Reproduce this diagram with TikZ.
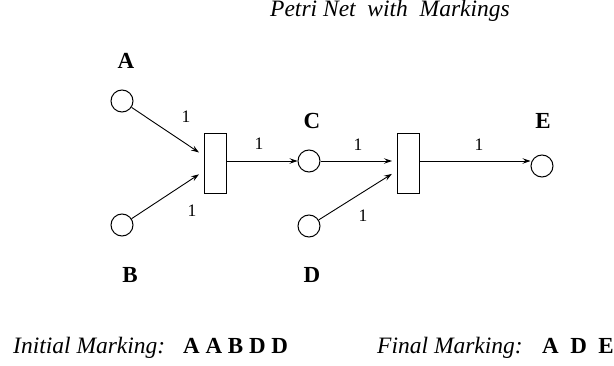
\documentclass[tikz,border=0pt]{standalone}
\usepackage{fontspec}
\setmainfont{Liberation Serif}
\usetikzlibrary{arrows.meta}
\begin{document}
\begin{tikzpicture}[x=1pt,y=-1pt,
  place/.style={circle,draw,line width=1pt,minimum size=22pt,inner sep=0pt},
  trans/.style={rectangle,draw,line width=1pt,minimum width=22pt,minimum height=60pt,inner sep=0pt},
  arc/.style={line width=0.9pt,-{Stealth[length=8pt,width=5.5pt,inset=3pt]}},
  lbl/.style={font=\fontsize{23}{26}\selectfont\bfseries,inner sep=0pt},
  wt/.style={font=\fontsize{17.5}{20}\selectfont,inner sep=0pt},
  txt/.style={font=\fontsize{23.5}{27}\selectfont\itshape,inner sep=0pt,anchor=base west}]
\useasboundingbox (0,0) rectangle (614,366);
% places and transitions
\node[place] (A) at (122,101) {};
\node[place] (B) at (122,225) {};
\node[trans] (T1) at (215.5,163.5) {};
\node[place] (C) at (309,161) {};
\node[place] (D) at (309,226) {};
\node[trans] (T2) at (408.5,163.5) {};
\node[place] (E) at (542,166) {};
% arcs
\draw[arc,shorten >=6pt] (A) -- (T1);
\draw[arc,shorten >=6pt] (B) -- (T1);
\draw[arc] (T1.east |- C) -- (C);
\draw[arc,shorten >=5pt] (C) -- (T2.west |- C);
\draw[arc,shorten >=6pt] (D) -- (T2);
\draw[arc] (T2.east |- C) -- (E.west |- C);
% weights
\node[wt] (w1) at (186,117) {1};
\node[wt] (w2) at (192,211) {1};
\node[wt] (w3) at (259,144) {1};
\node[wt] (w4) at (358,145) {1};
\node[wt] (w5) at (363,216) {1};
\node[wt] (w6) at (479,145) {1};
% place labels
\node[lbl] (la) at (126,61) {A};
\node[lbl] (lb) at (130,275) {B};
\node[lbl] (lc) at (312,121) {C};
\node[lbl] (ld) at (312,275) {D};
\node[lbl] (le) at (543,121) {E};
% texts
\node[txt] (title) at (270,17) {Petri Net\hspace{0.5em}with\hspace{0.5em}Markings};
\node[txt] (im) at (13,354) {Initial Marking:};
\node[lbl,anchor=base west] (imv) at (183,354) {A A B D D};
\node[txt] (fm) at (377,354) {Final Marking:};
\node[lbl,anchor=base west] (fmv) at (542,354) {A\ \ D\ \ E};
\end{tikzpicture}
\end{document}
